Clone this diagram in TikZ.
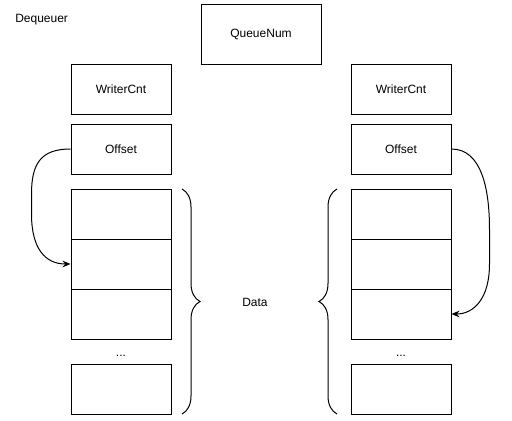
\documentclass[tikz,border=0pt]{standalone}
\usepackage{fontspec}
\setmainfont{Liberation Sans}
\usetikzlibrary{arrows.meta,decorations.pathreplacing}
\begin{document}
\begin{tikzpicture}[x=0.75pt,y=-0.75pt,
  cell/.style={draw,line width=0.75pt,minimum width=75pt,minimum height=37.5pt,inner sep=0pt,font=\fontsize{9}{11}\selectfont},
  lbl/.style={inner sep=0pt,font=\fontsize{9}{11}\selectfont},
  link/.style={line width=0.75pt,-{Stealth[length=6pt,width=5pt]}},
  bracebar/.style={line width=0.75pt,decorate,decoration={brace,amplitude=13.5pt}}]
\useasboundingbox (0,0) rectangle (512,421);
\node[lbl,anchor=west] (deq) at (15,20) {Dequeuer};
\node[cell,minimum width=90pt,minimum height=45pt] (qn) at (261,34) {QueueNum};
% left column
\node[cell] (wl) at (121,89) {WriterCnt};
\node[cell] (ol) at (121,149) {Offset};
\node[cell] (dl1) at (121,214) {};
\node[cell] (dl2) at (121,264) {};
\node[cell] (dl3) at (121,314) {};
\node[lbl] (el) at (121,356) {...};
\node[cell] (dl4) at (121,389) {};
% right column
\node[cell] (wr) at (401,89) {WriterCnt};
\node[cell] (or) at (401,149) {Offset};
\node[cell] (dr1) at (401,214) {};
\node[cell] (dr2) at (401,264) {};
\node[cell] (dr3) at (401,314) {};
\node[lbl] (er) at (401,356) {...};
\node[cell] (dr4) at (401,389) {};
% braces
\coordinate (bl1) at (182,189);
\coordinate (bl2) at (182,414);
\coordinate (br1) at (337,414);
\coordinate (br2) at (337,189);
\draw[bracebar] (bl1) -- (bl2);
\draw[bracebar] (br1) -- (br2);
\node[lbl] (data) at (255,302) {Data};
% arrows
\draw[link] (ol.west) .. controls ++(-30,0) and ++(0,-30) .. ++(-39,45) -- ++(0,20)
  .. controls ++(0,35) and ++(-25,0) .. (dl2.west);
\draw[link] (or.east) .. controls ++(30,0) and ++(0,-40) .. ++(38,80) -- ++(0,35)
  .. controls ++(0,35) and ++(22,0) .. (dr3.east);
\end{tikzpicture}
\end{document}
